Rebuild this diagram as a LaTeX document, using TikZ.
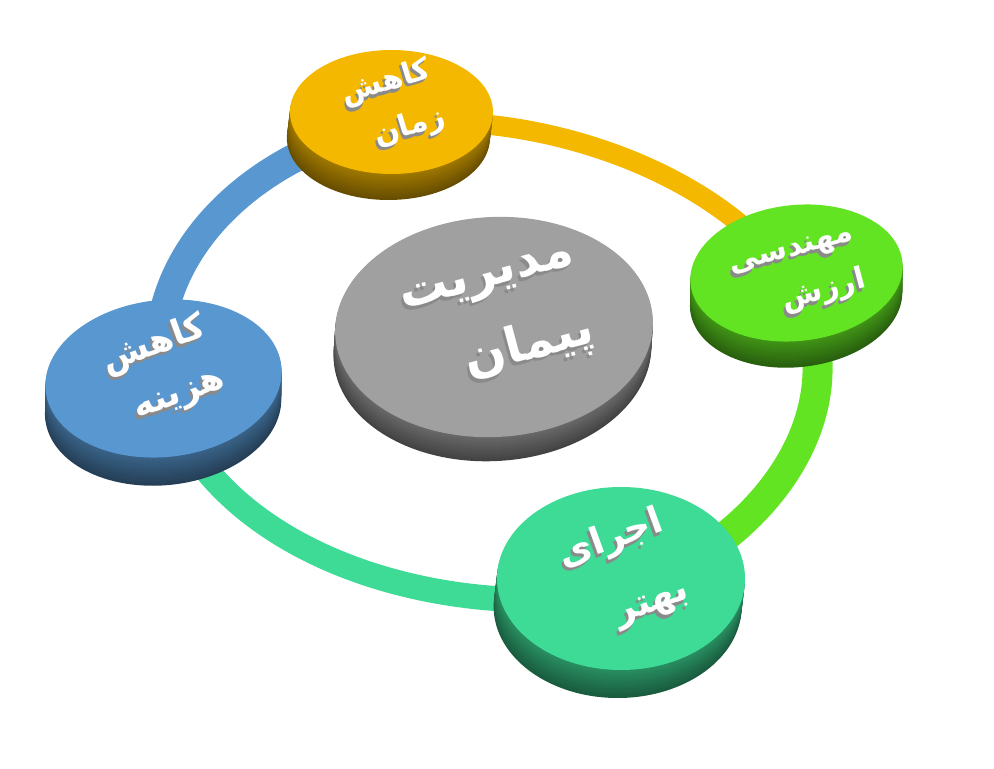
\documentclass[tikz,border=0pt]{standalone}
\usepackage{fontspec}
\usetikzlibrary{shapes.geometric,backgrounds}
\newfontfamily\farsi[Script=Arabic]{DejaVu Sans}
\TeXXeTstate=1
\definecolor{zamanc}{HTML}{F5B800}
\definecolor{arzeshc}{HTML}{62E422}
\definecolor{ejrac}{HTML}{3DDB95}
\definecolor{hazinec}{HTML}{5897CF}
\definecolor{modirc}{HTML}{A0A0A0}
\definecolor{shadowgray}{HTML}{8A8A8A}
\newcommand\fa[1]{\leavevmode\rlap{\kern-1.6pt\raisebox{-1.6pt}{\textcolor{shadowgray}{\beginR#1\endR}}}\beginR#1\endR}

\begin{document}
\begin{tikzpicture}
  \tikzstyle{face} = [ellipse, inner sep=0pt];
  \tikzstyle{lbl} = [text=white, align=right, font=\farsi\bfseries\fontsize{17}{28}\selectfont];
  \tikzstyle{ring} = [line cap=butt];

  \useasboundingbox (0,0) rectangle (19.88,15.38);

  % disks: side first, then the top face
  \foreach \nm/\px/\py/\rx/\ry/\dep/\rot/\col in {
      modir/9.88/8.84/3.18/2.20/0.48/3/modirc,
      zaman/7.83/13.14/2.03/1.24/0.52/0/zamanc,
      arzesh/15.93/9.92/2.13/1.36/0.52/6/arzeshc,
      ejra/12.42/3.81/2.48/1.83/0.56/0/ejrac,
      hazine/3.27/7.81/2.37/1.57/0.56/6/hazinec}
  {
    \foreach \k in {12,...,1} {
      \pgfmathtruncatemacro\mix{42+2*(12-\k)}
      \fill[\col!\mix!black, rotate around={\rot:(\px,\py)}]
        (\px-0.12*\dep*\k/12, \py-\dep*\k/12) ellipse [x radius=\rx, y radius=\ry];
    }
    \node[face, fill=\col, minimum width={2*\rx*1cm}, minimum height={2*\ry*1cm}, rotate=\rot] (\nm) at (\px,\py) {};
  }

  \node[lbl, rotate=15, font=\farsi\bfseries\fontsize{28}{46}\selectfont] (modirlbl) at (9.98,8.92) {\fa{مدیریت}\\\fa{پیمان}};
  \node[lbl, rotate=17] (zamanlbl) at (7.88,13.22) {\fa{کاهش}\\\fa{زمان}};
  \node[lbl, rotate=15] (arzeshlbl) at (15.98,9.82) {\fa{مهندسی}\\\fa{ارزش}};
  \node[lbl, rotate=20, font=\farsi\bfseries\fontsize{21}{41}\selectfont] (ejralbl) at (12.48,3.88) {\fa{اجرای}\\\fa{بهتر}};
  \node[lbl, rotate=20, font=\farsi\bfseries\fontsize{20}{31}\selectfont] (hazinelbl) at (3.28,7.94) {\fa{کاهش}\\\fa{هزینه}};

  \begin{scope}[on background layer]
    \draw[ring, zamanc, line width=0.4cm] ([yshift=-0.26cm]zaman.center) to[out=7, in=123, looseness=0.82] ([yshift=-0.26cm]arzesh.center);
    \draw[ring, arzeshc, line width=0.6cm] ([yshift=-0.26cm]arzesh.center) to[out=-62, in=18, looseness=1.05] ([yshift=-0.28cm]ejra.center);
    \draw[ring, ejrac, line width=0.5cm] ([yshift=-0.28cm]ejra.center) to[out=190, in=-72, looseness=0.9] ([yshift=-0.28cm]hazine.center);
    \draw[ring, hazinec, line width=0.58cm] ([yshift=-0.28cm]hazine.center) to[out=102, in=190, looseness=1.0] ([yshift=-0.26cm]zaman.center);
  \end{scope}

\end{tikzpicture}
\end{document}
